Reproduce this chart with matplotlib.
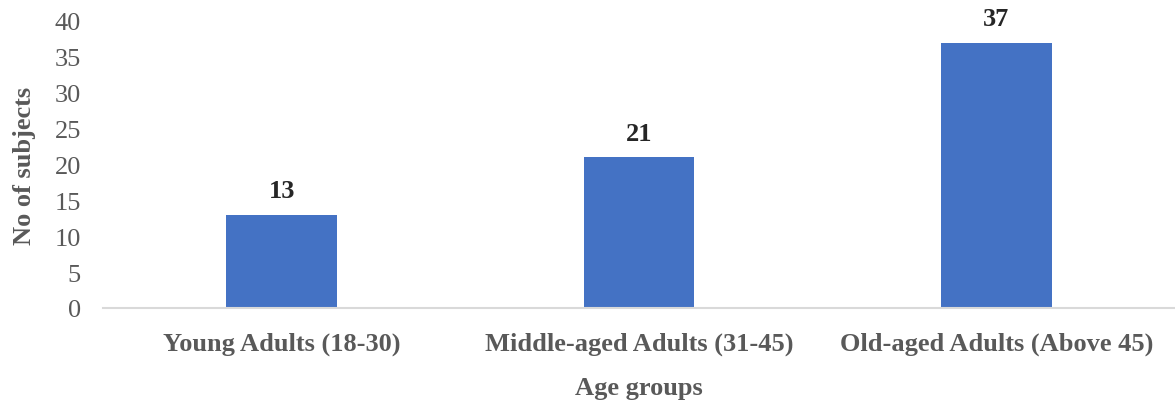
import matplotlib
matplotlib.use("Agg")
import matplotlib.pyplot as plt

categories = ["Young Adults (18-30)", "Middle-aged Adults (31-45)", "Old-aged Adults (Above 45)"]
subjects = [13, 21, 37]
y_ticks = [0, 5, 10, 15, 20, 25, 30, 35, 40]

plt.rcParams["font.family"] = ["Liberation Serif", "DejaVu Serif"]
FS = 19

fig = plt.figure(figsize=(11.75, 4.06), dpi=100)
ax = fig.add_axes([103 / 1175, 97 / 406, 1 - 103 / 1175, 287 / 406])

x = range(len(categories))
bars = ax.bar(x, subjects, width=0.31, color="#4472C4", zorder=2)

ax.set_xlim(-0.5, len(categories) - 0.5)
ax.set_ylim(0, 40)
ax.set_yticks(y_ticks)
ax.set_xticks(list(x))
ax.set_xticklabels(categories, fontweight="bold")

for s in ["top", "right", "left"]:
    ax.spines[s].set_visible(False)
ax.spines["bottom"].set_color("#d9d9d9")
ax.spines["bottom"].set_linewidth(1.5)

ax.tick_params(axis="y", length=0, labelsize=FS, labelcolor="#595959", pad=16)
ax.tick_params(axis="x", length=0, labelsize=FS, labelcolor="#595959", pad=17)

for b, v in zip(bars, subjects):
    ax.annotate(str(v), (b.get_x() + b.get_width() / 2, v), xytext=(0, 9),
                textcoords="offset points", ha="center", va="bottom",
                fontsize=FS, fontweight="bold", color="#262626")

ax.set_xlabel("Age groups", fontsize=FS, fontweight="bold", color="#595959", labelpad=15)
ax.set_ylabel("No of subjects", fontsize=FS, fontweight="bold", color="#595959", labelpad=13)

fig.savefig("out.png", dpi=100)
